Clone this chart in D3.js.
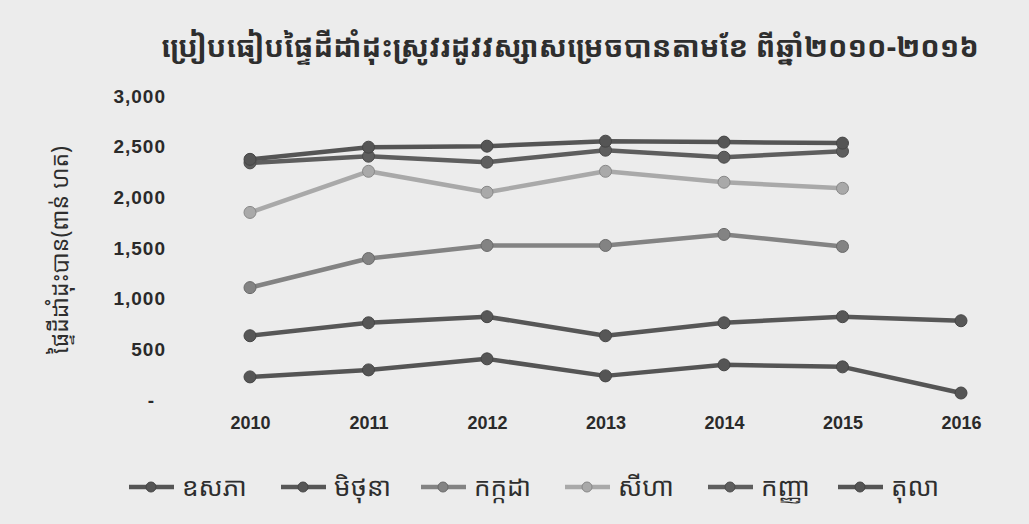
<!DOCTYPE html>
<html>
<head>
<meta charset="utf-8">
<script src="https://cdn.jsdelivr.net/npm/d3@7"></script>
<style>
  html, body { margin: 0; padding: 0; background: #ececec; }
  svg { display: block; }
  .khmer { font-family: "Noto Sans Khmer", "Khmer OS", "Khmer OS System", "Noto Serif Khmer", "Hanuman", sans-serif; }
  .num { font-family: "Liberation Sans", Arial, sans-serif; font-weight: bold; }
</style>
</head>
<body>
<svg id="chart" width="1029" height="524"></svg>
<script>
// --- chart data ---
const years = ["2010", "2011", "2012", "2013", "2014", "2015", "2016"];
const months = ["ឧសភា", "មិថុនា", "កក្កដា", "សីហា", "កញ្ញា", "តុលា"];
const mayValues  = [228, 297, 406, 238, 347, 327, 69];
const juneValues = [634, 762, 822, 634, 762, 822, 782];
const julyValues = [1109, 1396, 1525, 1525, 1634, 1515, null];
const augValues  = [1851, 2257, 2050, 2257, 2149, 2089, null];
const septValues = [2340, 2406, 2347, 2465, 2396, 2455, null];
const octValues  = [2375, 2495, 2505, 2554, 2545, 2535, null];
const yTicks = [0, 500, 1000, 1500, 2000, 2500, 3000];

const titleText = "ប្រៀបធៀបផ្ទៃដីដាំដុះស្រូវរដូវវស្សាសម្រេចបានតាមខែ ពីឆ្នាំ២០១០-២០១៦";
const yLabelText = "ផ្ទៃដីដាំដុះបាន(ពាន់ ហត)";

const seriesValues = [mayValues, juneValues, julyValues, augValues, septValues, octValues];
const seriesColors = ["#555555", "#575757", "#838383", "#a9a9a9", "#5e5e5e", "#555555"];

const svg = d3.select("#chart");

// background of the scan
svg.append("rect").attr("width", 1029).attr("height", 524).attr("fill", "#ececec");

const x = d3.scalePoint().domain(years).range([250, 961]);
const y = d3.scaleLinear().domain([0, 3000]).range([400, 96]);

// title
svg.append("text")
  .attr("class", "khmer")
  .attr("x", 570).attr("y", 57)
  .attr("text-anchor", "middle")
  .attr("font-size", 29)
  .attr("font-weight", "bold")
  .attr("fill", "#2e2e2e")
  .text(titleText);

// y axis (no line, no ticks)
const yAxis = svg.append("g")
  .attr("class", "num")
  .attr("transform", "translate(166,0)")
  .call(d3.axisLeft(y).tickValues(yTicks).tickSize(0).tickPadding(0)
    .tickFormat(d => d === 0 ? "-" : d3.format(",")(d)));
yAxis.select(".domain").remove();
yAxis.selectAll("text")
  .attr("font-size", 19).attr("fill", "#2a2a2a")
  .attr("font-family", "Liberation Sans, Arial, sans-serif")
  .attr("font-weight", "bold")
  .attr("letter-spacing", 1)
  .attr("dx", d => d === 0 ? -11 : 0);

// x axis
const xAxis = svg.append("g")
  .attr("class", "num")
  .attr("transform", "translate(0,416)")
  .call(d3.axisBottom(x).tickSize(0).tickPadding(0));
xAxis.select(".domain").remove();
xAxis.selectAll("text")
  .attr("font-size", 18).attr("fill", "#2a2a2a")
  .attr("font-family", "Liberation Sans, Arial, sans-serif")
  .attr("font-weight", "bold");

// y label
svg.append("text")
  .attr("class", "khmer")
  .attr("transform", "translate(68,250) rotate(-90)")
  .attr("text-anchor", "middle")
  .attr("font-size", 23)
  .attr("fill", "#2e2e2e")
  .text(yLabelText);

// lines + markers
const line = d3.line()
  .defined(d => d.v != null)
  .x(d => x(d.year))
  .y(d => y(d.v));

seriesValues.forEach((vals, i) => {
  const pts = years.map((yr, j) => ({ year: yr, v: vals[j] }));
  const g = svg.append("g");
  g.append("path")
    .datum(pts)
    .attr("fill", "none")
    .attr("stroke", seriesColors[i])
    .attr("stroke-width", 4.5)
    .attr("stroke-linejoin", "round")
    .attr("d", line);
  g.selectAll("circle")
    .data(pts.filter(d => d.v != null))
    .join("circle")
    .attr("cx", d => x(d.year))
    .attr("cy", d => y(d.v))
    .attr("r", 6)
    .attr("fill", seriesColors[i])
    .attr("stroke", d3.color(seriesColors[i]).darker(0.6))
    .attr("stroke-width", 1);
});

// legend
const legendX = [129, 281, 421, 565, 708, 838];
const legend = svg.append("g").attr("transform", "translate(0,487)");
months.forEach((m, i) => {
  const item = legend.append("g").attr("transform", `translate(${legendX[i]},0)`);
  item.append("line")
    .attr("x1", 0).attr("x2", 45).attr("y1", 0).attr("y2", 0)
    .attr("stroke", seriesColors[i]).attr("stroke-width", 4.5);
  item.append("circle")
    .attr("cx", 22).attr("cy", 0).attr("r", 5)
    .attr("fill", seriesColors[i])
    .attr("stroke", d3.color(seriesColors[i]).darker(0.6));
  item.append("text")
    .attr("class", "khmer")
    .attr("x", 53).attr("y", 9)
    .attr("font-size", 26)
    .attr("fill", "#2e2e2e")
    .text(m);
});
</script>
</body>
</html>
